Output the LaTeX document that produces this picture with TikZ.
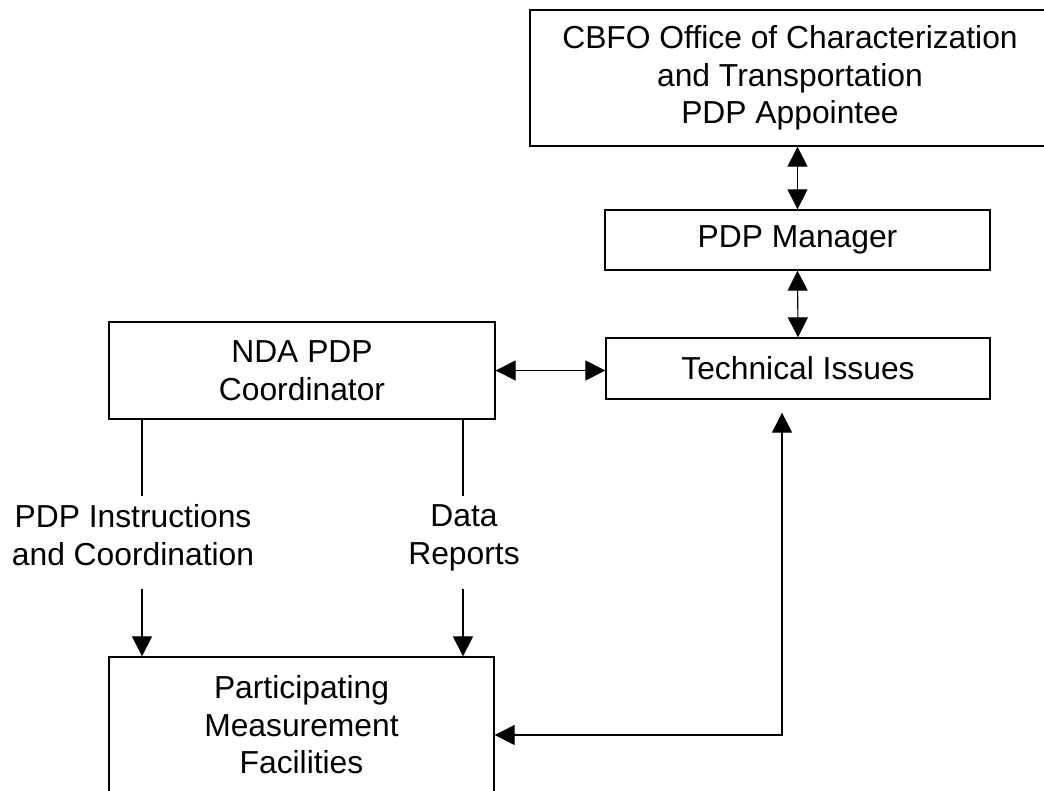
\documentclass[tikz,border=0pt]{standalone}
\usepackage{fontspec}
\setmainfont{Liberation Sans}
\usetikzlibrary{arrows.meta}
\begin{document}
\begin{tikzpicture}[x=1pt,y=-1pt,
  txt/.style={font=\fontsize{31.8}{37.5}\selectfont, align=center, inner sep=0pt},
  box/.style={txt, draw, line width=1.3pt},
  conn/.style={line width=1.1pt},
  tip/.style={-{Triangle[length=20pt,width=20pt]}},
  arr/.style={conn, {Triangle[length=20pt,width=20pt]}-{Triangle[length=20pt,width=20pt]}}
]
\clip (0,0) rectangle (1044,790);
\fill[white] (0,0) rectangle (1044,790);
% boxes
\node[box, minimum width=520pt, minimum height=136pt] (cbfo) at (790,78)
  {CBFO Office of Characterization\\and Transportation\\PDP Appointee};
\node[box, minimum width=385pt, minimum height=60pt] (mgr) at (797.5,240) {PDP Manager};
\node[box, minimum width=384pt, minimum height=61pt] (tech) at (798,368.5) {Technical Issues};
\node[box, minimum width=386pt, minimum height=97pt] (nda) at (302,370.5) {NDA PDP\\Coordinator};
\node[box, minimum width=385pt, minimum height=136pt] (pmf) at (301.5,725)
  {Participating\\Measurement\\Facilities};
% labels
\node[txt] (lab1) at (133,535) {PDP Instructions\\and Coordination};
\node[txt] (lab2) at (464,538) {Data\\Reports};
% free ends
\coordinate (a1) at (142,496);
\coordinate (a2) at (142,589);
\coordinate (b1) at (463,496);
\coordinate (b2) at (463,589);
\coordinate (c) at (782,735);
% connectors
\draw[arr] (mgr.north |- cbfo.south) -- (mgr.north);
\draw[arr] (mgr.south) -- (tech.north);
\draw[arr] (nda.east) -- (nda.east -| tech.west);
\draw[conn] (nda.south -| a1) -- (a1);
\draw[conn, tip] (a2) -- (pmf.north -| a2);
\draw[conn] (nda.south -| b1) -- (b1);
\draw[conn, tip] (b2) -- (pmf.north -| b2);
\draw[arr, shorten >=13pt] (pmf.east |- c) -- (c) -- (tech.south -| c);
\end{tikzpicture}
\end{document}
